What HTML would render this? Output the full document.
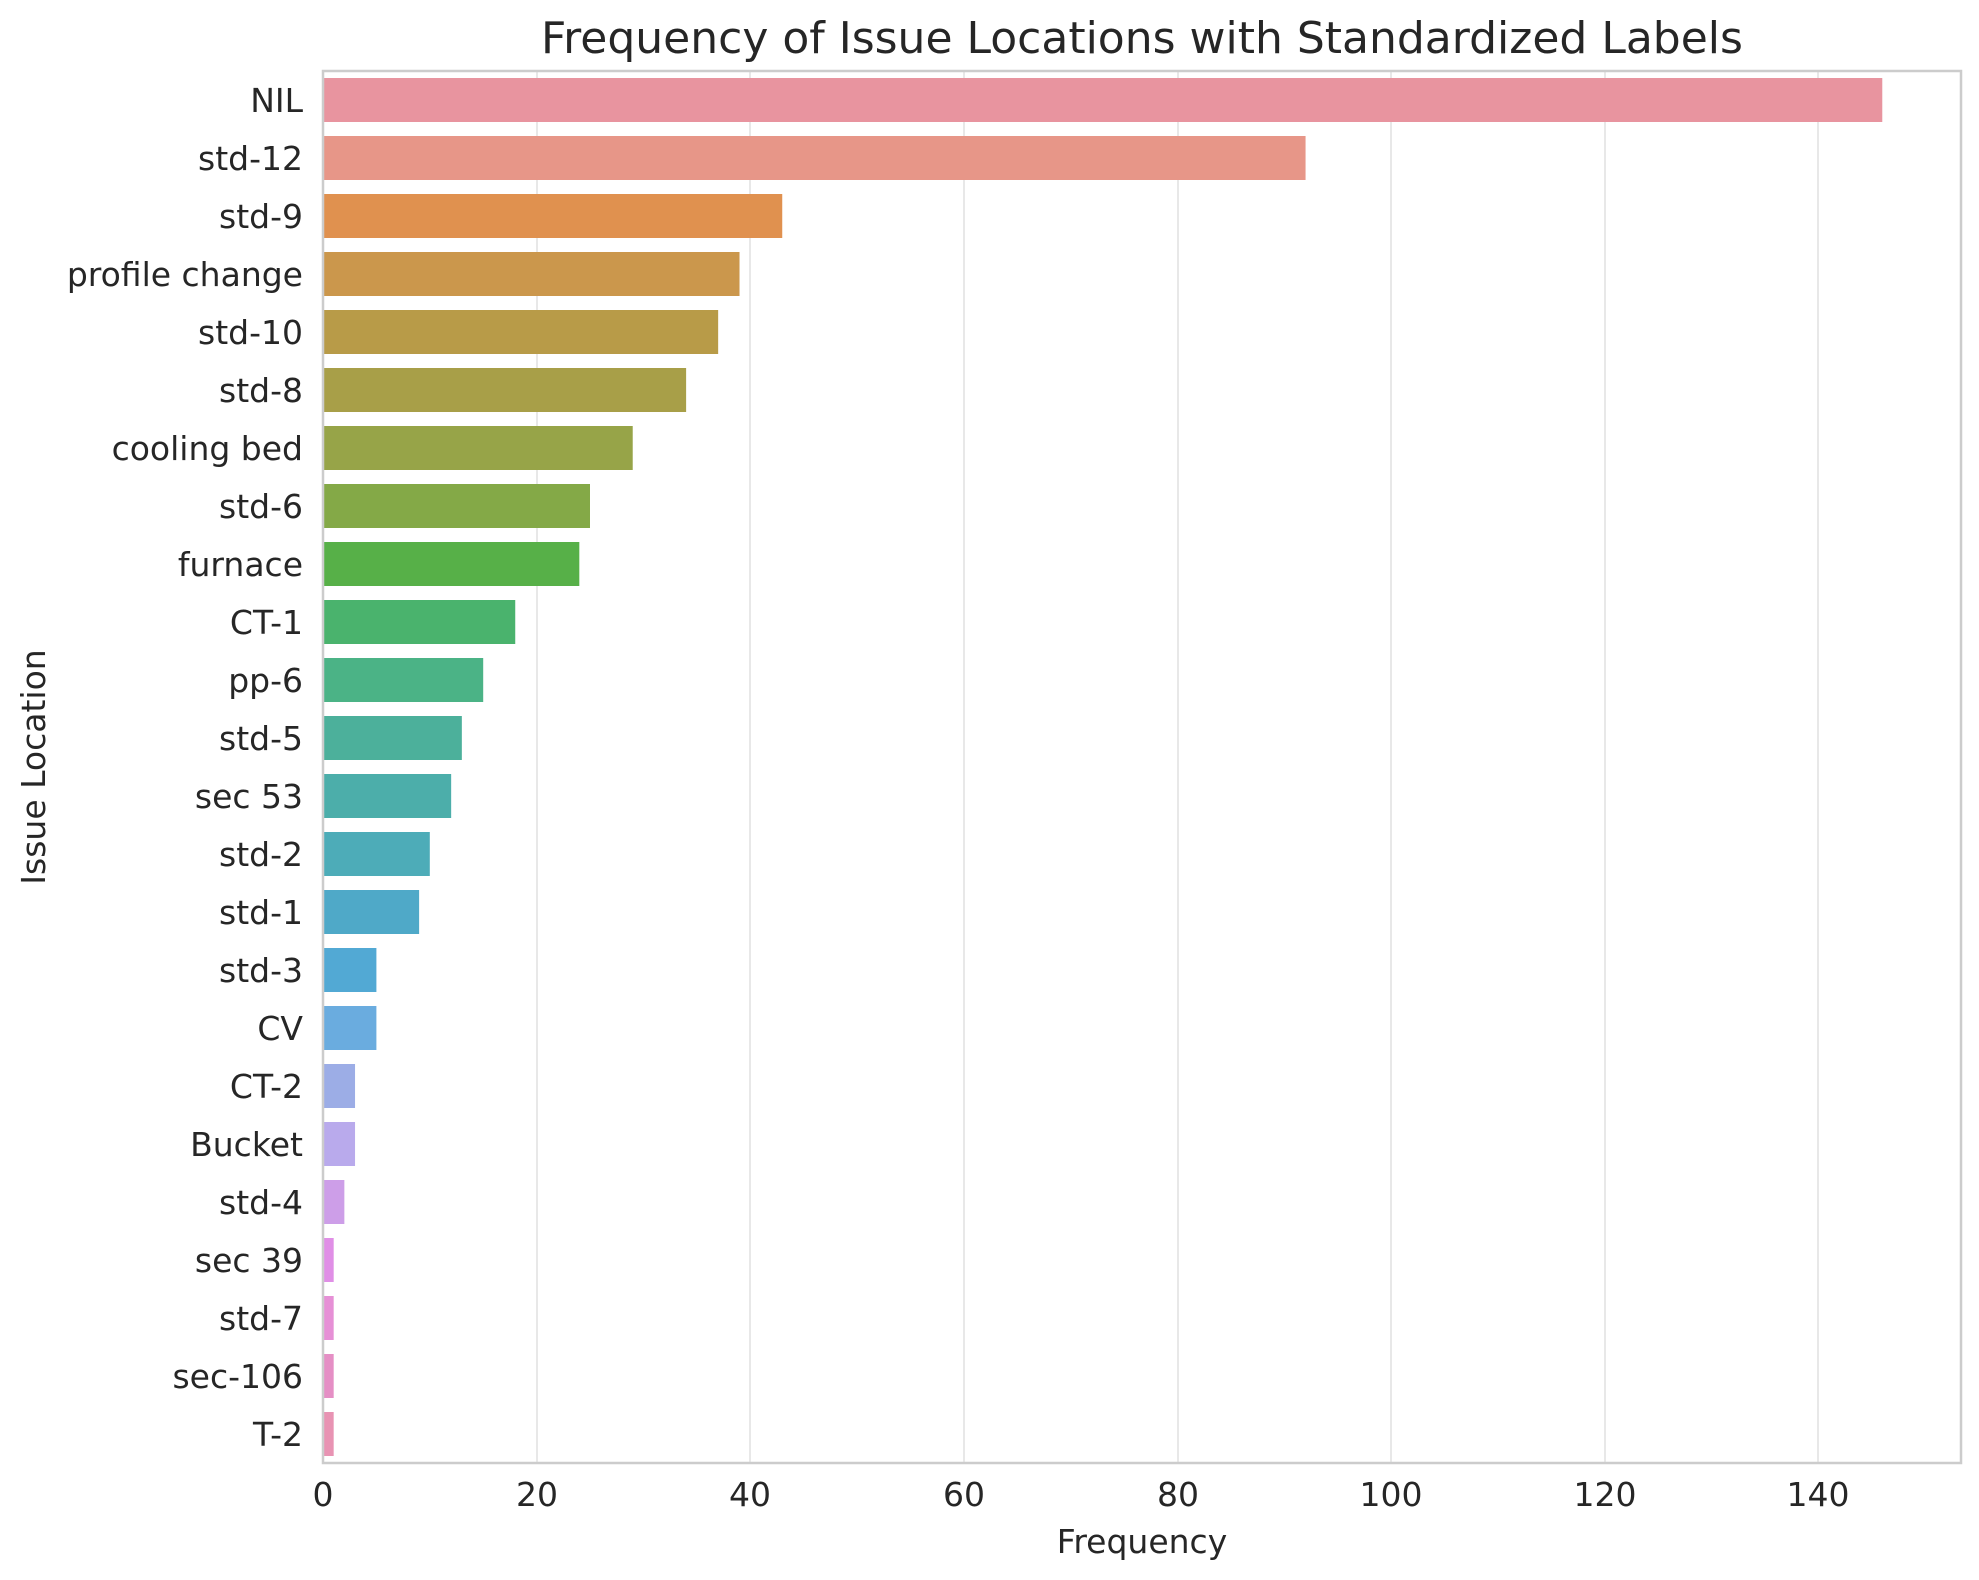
<!DOCTYPE html>
<html><head><meta charset="utf-8"><style>body{margin:0;background:#fff}svg{display:block}</style></head>
<body>
<svg width="1979" height="1580" xmlns="http://www.w3.org/2000/svg" font-family="DejaVu Sans, Liberation Sans, sans-serif" fill="#262626">
<rect width="1979" height="1580" fill="#fff"/>
<g stroke="#e3e3e3" stroke-width="1.6">
<line x1="537" y1="71" x2="537" y2="1463"/><line x1="750" y1="71" x2="750" y2="1463"/><line x1="964" y1="71" x2="964" y2="1463"/><line x1="1178" y1="71" x2="1178" y2="1463"/><line x1="1391" y1="71" x2="1391" y2="1463"/><line x1="1605" y1="71" x2="1605" y2="1463"/><line x1="1818" y1="71" x2="1818" y2="1463"/>
</g>
<g id="bars"></g>
<rect x="323" y="71" width="1638" height="1392" fill="none" stroke="#cccccc" stroke-width="2.5"/>
<text x="1142" y="53" font-size="44" text-anchor="middle">Frequency of Issue Locations with Standardized Labels</text>
<g font-size="33" text-anchor="middle">
<text x="323" y="1506">0</text><text x="537" y="1506">20</text><text x="750" y="1506">40</text><text x="964" y="1506">60</text><text x="1178" y="1506">80</text><text x="1391" y="1506">100</text><text x="1605" y="1506">120</text><text x="1818" y="1506">140</text>
</g>
<text x="1142" y="1553" font-size="33" text-anchor="middle">Frequency</text>
<text transform="translate(45,767) rotate(-90)" font-size="33" text-anchor="middle">Issue Location</text>
<g id="labels" font-size="33" text-anchor="end"></g>
<script>
var d=[["NIL",146,"#e8949f"],["std-12",92,"#e79688"],["std-9",43,"#e0914f"],["profile change",39,"#cb974c"],["std-10",37,"#b89b48"],["std-8",34,"#a89f48"],["cooling bed",29,"#97a448"],["std-6",25,"#84a947"],["furnace",24,"#57b048"],["CT-1",18,"#4ab36d"],["pp-6",15,"#4bb386"],["std-5",13,"#4cb09b"],["sec 53",12,"#4caeaa"],["std-2",10,"#4dacb8"],["std-1",9,"#4fa9c8"],["std-3",5,"#52a9d4"],["CV",5,"#6aacdf"],["CT-2",3,"#9cade6"],["Bucket",3,"#b9aaec"],["std-4",2,"#cd9ee8"],["sec 39",1,"#e08fe6"],["std-7",1,"#e690d6"],["sec-106",1,"#e58fc5"],["T-2",1,"#e893b3"]];
var ns="http://www.w3.org/2000/svg",b=document.getElementById("bars"),l=document.getElementById("labels");
d.forEach(function(r,i){var c=71+58*(i+0.5);var e=document.createElementNS(ns,"rect");e.setAttribute("x",324);e.setAttribute("y",c-22);e.setAttribute("width",r[1]*10.68-1);e.setAttribute("height",44);e.setAttribute("fill",r[2]);b.appendChild(e);
var t=document.createElementNS(ns,"text");t.setAttribute("x",303);t.setAttribute("y",c+12);t.textContent=r[0];l.appendChild(t);});
</script>
</svg>
</body></html>
